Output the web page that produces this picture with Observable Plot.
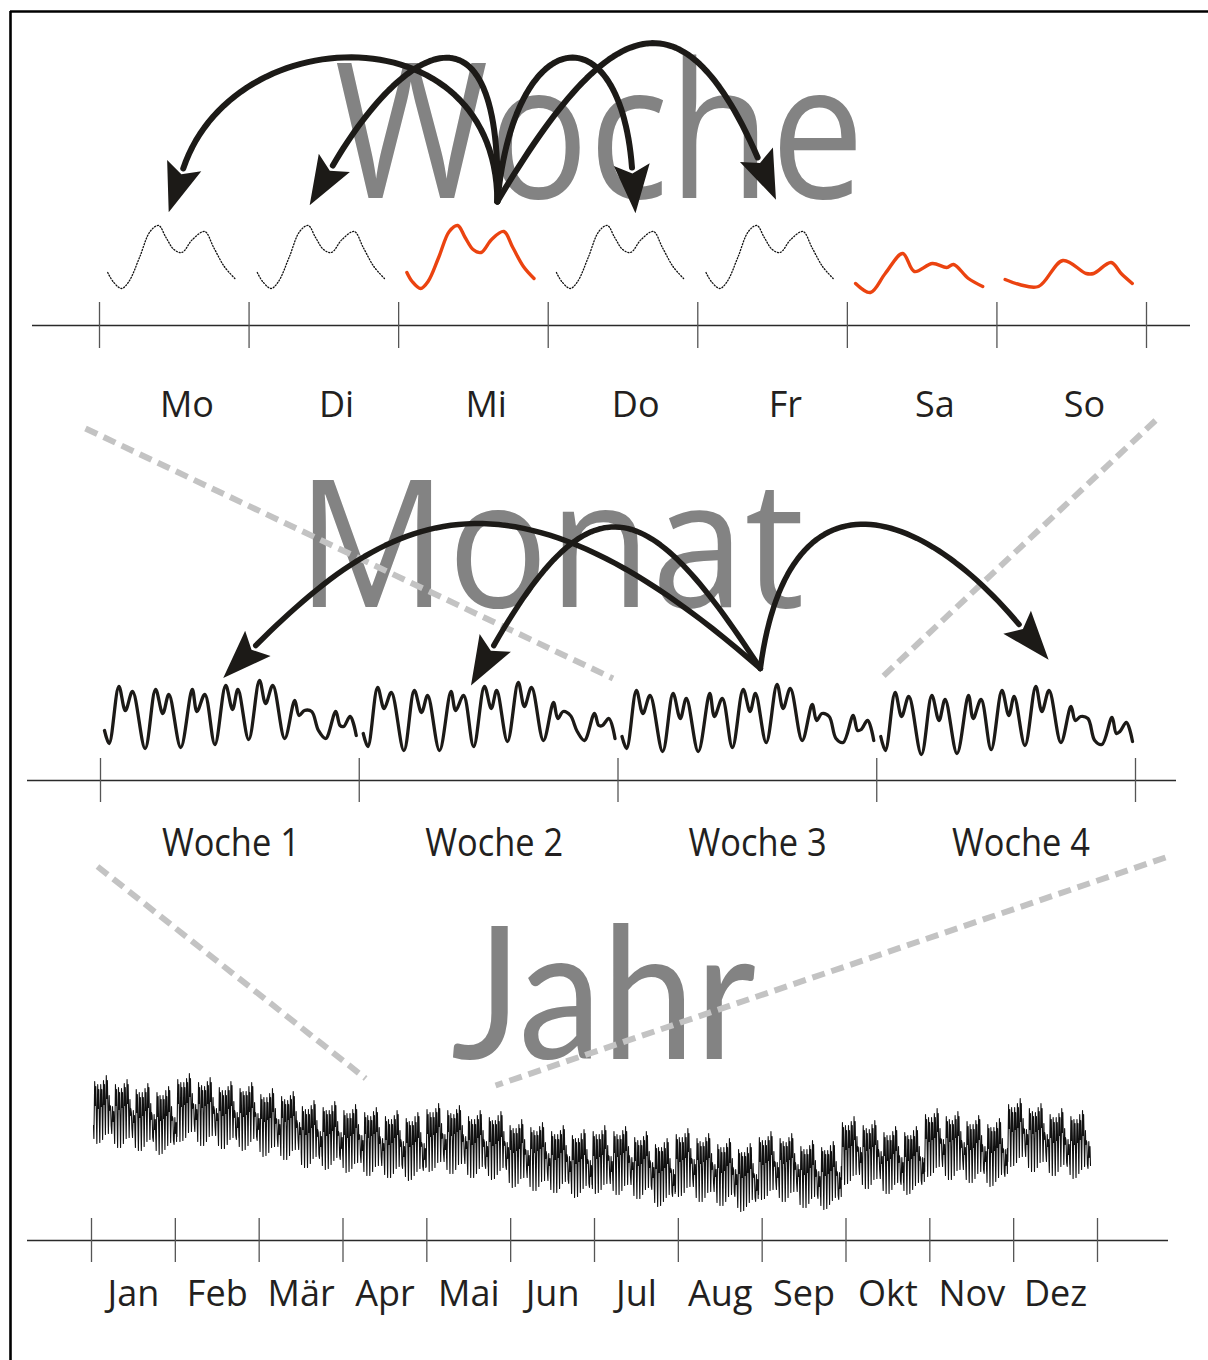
<!DOCTYPE html>
<html><head><meta charset="utf-8">
<script src="https://cdn.jsdelivr.net/npm/d3@7"></script>
<script src="https://cdn.jsdelivr.net/npm/@observablehq/plot@0.6"></script>
<style>html,body{margin:0;padding:0;background:#fff;} #chart svg{display:block}</style>
</head><body><div id="chart"></div>
<script>
// ---------------- DATA ----------------
const days = ["Mo", "Di", "Mi", "Do", "Fr", "Sa", "So"];
const highlightedDays = ["Mi", "Sa", "So"];
// daily load profiles (hour of day, load)
const weekdayHours = [0, 1, 2.6, 4, 6, 8, 9.6, 11, 12.5, 14, 16, 18.3, 20, 22, 24];
const weekdayLoad  = [21, 12, 5, 12, 36, 62, 68, 56, 44, 41, 54, 62, 46, 27, 15];
const saturdayHours = [0, 2.8, 5.6, 8.9, 11.1, 14.5, 17.2, 18.5, 21.3, 24];
const saturdayLoad  = [10, 1, 20, 40, 22, 30, 26, 29, 15, 7];
const sundayHours = [0, 2.7, 6.3, 10.9, 15.3, 16.7, 20, 21.9, 24];
const sundayLoad  = [14, 9, 7, 33, 20, 20, 31, 20, 10];

// monthly view: time within a week (days) and load for each of the four weeks
const weekLabels = ["Woche 1", "Woche 2", "Woche 3", "Woche 4"];
const weekTime = [0, 0.13, 0.40, 0.58, 0.78, 1.13, 1.42, 1.62, 1.79, 2.12, 2.44, 2.57, 2.79, 3.07, 3.37, 3.56, 3.71,
                  4.01, 4.31, 4.48, 4.68, 5.01, 5.29, 5.41, 5.56, 5.76, 5.95, 6.15, 6.43, 6.55, 6.65, 6.83, 7.0];
const week1Load = [23, 10, 67, 43, 62, 5, 64, 40, 59, 6, 64, 42, 59, 9, 68, 44, 64, 14, 73, 50, 68, 15, 53, 38, 43, 42, 23, 15, 42, 28, 27, 37, 18];
const week2Load = [20, 7, 66, 45, 61, 3, 63, 41, 58, 3, 62, 43, 58, 7, 67, 45, 63, 12, 71, 47, 66, 13, 51, 35, 42, 38, 22, 13, 40, 28, 28, 35, 15];
const week3Load = [17, 5, 63, 40, 58, 2, 60, 35, 55, 2, 60, 37, 55, 6, 64, 42, 60, 11, 69, 45, 65, 13, 49, 33, 40, 37, 15, 11, 38, 23, 24, 33, 13];
const week4Load = [17, 3, 61, 37, 57, -1, 58, 33, 54, 0, 58, 35, 54, 4, 63, 38, 57, 8, 67, 42, 63, 11, 47, 33, 37, 35, 13, 9, 36, 20, 22, 31, 12];

// yearly view: weekly peak level of each drawn week
const yearWeekPeak = [75, 71, 67, 64, 77, 73, 69, 68, 62, 59, 50, 49, 46, 43, 40, 38, 47, 45, 40, 39, 31, 28, 25, 21,
                      25, 24, 19, 12, 22, 17, 12, 7, 19, 17, 10, 9, 34, 30, 24, 24, 42, 39, 35, 32, 52, 47, 42, 40];
const months = ["Jan", "Feb", "Mär", "Apr", "Mai", "Jun", "Jul", "Aug", "Sep", "Okt", "Nov", "Dez"];

// titles and similarity arrows
const titles = ["Woche", "Monat", "Jahr"];
const weekArrows = [{from: "Mi", to: "Mo"}, {from: "Mi", to: "Di"}, {from: "Mi", to: "Do"}, {from: "Mi", to: "Fr"}];
const monthArrows = [{from: "Woche 3", to: "Woche 1"}, {from: "Woche 3", to: "Woche 2"}, {from: "Woche 3", to: "Woche 4"}];

// ---------------- LAYOUT ----------------
const W = 1208, H = 1360;
const wk = {x0: 99, x1: 1146, axisY: 325, t0: 302, t1: 348, aL: 32, aR: 1190, base: 293, labelY: 416};
const mo = {x0: 100, x1: 1135, axisY: 780, t0: 758, t1: 802, aL: 27, aR: 1176, base: 753, labelY: 855};
const yr = {x0: 91, x1: 1097, axisY: 1240, t0: 1218, t1: 1262, aL: 27, aR: 1168, base: 1150, labelY: 1305, c0: 93, c1: 1090};
const dayW = (wk.x1 - wk.x0) / 7;
const weekW = (mo.x1 - mo.x0) / 4;
const monW = (yr.x1 - yr.x0) / 12;
const dayX = (d, f) => wk.x0 + days.indexOf(d) * dayW + f * dayW;
const weekX = (w, f) => mo.x0 + weekLabels.indexOf(w) * weekW + f * weekW;

// week panel curves
const profileOf = d => d === "Sa" ? [saturdayHours, saturdayLoad] : d === "So" ? [sundayHours, sundayLoad] : [weekdayHours, weekdayLoad];
const weekRows = days.flatMap(d => {
  const [hs, vs] = profileOf(d);
  return hs.map((h, j) => ({day: d, x: dayX(d, 0.055 + 0.85 * h / 24), y: wk.base - vs[j]}));
});
// month panel curves
const monthWeeks = [week1Load, week2Load, week3Load, week4Load];
const monthRows = monthWeeks.flatMap((vals, k) => vals.map((v, i) => ({
  week: k, x: mo.x0 + k * weekW + 4 + weekTime[i] / 7 * (weekW - 7), y: mo.base - v
})));
// year panel curve: each drawn week uses the measured weekly shape at its weekly level
const yWeekPx = (yr.c1 - yr.c0) / yearWeekPeak.length;
const yearRows = yearWeekPeak.flatMap((peak, w) => {
  const prof = monthWeeks[w % 4];
  const mx = d3.max(prof);
  return prof.map((v, i) => ({x: yr.c0 + (w + weekTime[i] / 7) * yWeekPx, y: yr.base - (peak - (mx - v))}));
});

// arrows (cubic Bezier from the source curve to the target)
const weekArrowGeom = {
  Mo: {land: 0.56, endY: 168, c1: [-1, -190], c2: [50, -150]},
  Di: {land: 0.56, endY: 165, c1: [5, -215], c2: [70, -120]},
  Do: {land: 0.56, endY: 167, c1: [17, -180], c2: [-12, -157]},
  Fr: {land: 0.40, endY: 157, c1: [108, -182], c2: [-77, -177]}
};
const monthArrowGeom = {
  "Woche 1": {land: 0.60, endY: 645, c1: [-248, -218], c2: [137, -137]},
  "Woche 2": {land: 0.52, endY: 645, c1: [-110, -170], c2: [100, -175]},
  "Woche 4": {land: 0.55, endY: 624, c1: [27, -202], c2: [-104, -124]}
};
function bezier(p0, p1, p2, p3, n = 60) {
  return d3.range(n + 1).map(i => {
    const t = i / n, u = 1 - t;
    return [u*u*u*p0[0] + 3*u*u*t*p1[0] + 3*u*t*t*p2[0] + t*t*t*p3[0],
            u*u*u*p0[1] + 3*u*u*t*p1[1] + 3*u*t*t*p2[1] + t*t*t*p3[1]];
  });
}
function buildArrows(list, geom, srcX, srcY, tgtX, prefix) {
  const lines = [], heads = [];
  list.forEach((a, k) => {
    const g = geom[a.to];
    const S = [srcX(a.from), srcY];
    const E = [tgtX(a.to, g.land), g.endY];
    const P1 = [S[0] + g.c1[0], S[1] + g.c1[1]];
    const P2 = [E[0] + g.c2[0], E[1] + g.c2[1]];
    bezier(S, P1, P2, E).forEach(([x, y]) => lines.push({id: prefix + k, x, y}));
    heads.push({x: E[0], y: E[1], angle: Math.atan2(E[0] - P2[0], -(E[1] - P2[1])) * 180 / Math.PI});
  });
  return {lines, heads};
}
const wA = buildArrows(weekArrows, weekArrowGeom, d => dayX(d, 0.66), 201, dayX, "w");
const mA = buildArrows(monthArrows, monthArrowGeom, w => weekX(w, 0.55), 668, weekX, "m");

const arrowHead = {
  draw(ctx, size) {
    const r = Math.sqrt(size / Math.PI);
    ctx.moveTo(0, -2.3 * r);
    ctx.lineTo(0.9 * r, 0.15 * r);
    ctx.lineTo(0, -0.3 * r);
    ctx.lineTo(-0.9 * r, 0.15 * r);
    ctx.closePath();
  }
};

// zoom connector lines
const zoomLinks = [
  {x1: wk.x0 - 14, y1: 428, x2: weekX("Woche 3", 0) - 5, y2: 678},
  {x1: wk.x1 + 9, y1: 420, x2: weekX("Woche 4", 0) + 4, y2: 678},
  {x1: mo.x0 - 3, y1: 866, x2: yr.x0 + 3.27 * monW, y2: 1078},
  {x1: mo.x1 + 30, y1: 857, x2: yr.x0 + 4.82 * monW, y2: 1085}
];

const font = "'Open Sans', 'DejaVu Sans', sans-serif";
const titleFont = "Lato, 'Open Sans', sans-serif";
const titleRows = [
  {text: titles[0], x: 599, y: 197, size: 189, family: font},
  {text: titles[1], x: 550, y: 606, size: 177, family: font},
  {text: titles[2], x: 603, y: 1058, size: 184, family: titleFont}
];

const axisRows = [wk, mo, yr].map(p => ({y: p.axisY, x1: p.aL, x2: p.aR}));
const tickRows = [
  ...d3.range(8).map(i => ({x: wk.x0 + i * dayW, y1: wk.t0, y2: wk.t1})),
  ...d3.range(5).map(i => ({x: mo.x0 + i * weekW, y1: mo.t0, y2: mo.t1})),
  ...d3.range(13).map(i => ({x: yr.x0 + i * monW, y1: yr.t0, y2: yr.t1}))
];
const labelRows = [
  ...days.map(d => ({text: d, x: dayX(d, 0.585), y: wk.labelY, size: 36})),
  ...weekLabels.map((w, i) => ({text: w, x: weekX(w, 0.5) + 1 + 4.6 * i, y: mo.labelY, size: 38})),
  ...months.map((m, i) => ({text: m, x: yr.x0 + (i + 0.5) * monW, y: yr.labelY, size: 36}))
];

const red = "#eb4310";
const ink = "#1c1a17";

const chart = Plot.plot({
  width: W, height: H, margin: 0,
  x: {type: "linear", domain: [0, W], range: [0, W], axis: null},
  y: {type: "linear", domain: [0, H], range: [0, H], axis: null},
  style: {fontFamily: font, background: "#fff"},
  marks: [
    // frame
    Plot.ruleX([10], {x: d => d, y1: 11, y2: H, stroke: "#000", strokeWidth: 2.6}),
    Plot.ruleY([11], {y: d => d, x1: 10, x2: W, stroke: "#000", strokeWidth: 2.6}),
    // big titles
    ...titleRows.map(t => Plot.text([t], {x: "x", y: "y", text: "text", fontSize: t.size, fill: "#838383", lineAnchor: "bottom", textAnchor: "middle", fontFamily: t.family})),
    // zoom connectors
    Plot.link(zoomLinks, {x1: "x1", y1: "y1", x2: "x2", y2: "y2", stroke: "#c3c3c3", strokeWidth: 6, strokeDasharray: "13,7"}),
    // week curves
    Plot.line(weekRows.filter(d => !highlightedDays.includes(d.day)), {x: "x", y: "y", z: "day", curve: "catmull-rom", stroke: "#111", strokeWidth: 1.3, strokeDasharray: "1.1,1.9"}),
    Plot.line(weekRows.filter(d => highlightedDays.includes(d.day)), {x: "x", y: "y", z: "day", curve: "catmull-rom", stroke: red, strokeWidth: 3.4}),
    // month curve
    Plot.line(monthRows, {x: "x", y: "y", z: "week", curve: "catmull-rom", stroke: ink, strokeWidth: 3.3}),
    // year curve
    Plot.line(yearRows, {x: "x", y: "y", curve: "linear", stroke: "#111", strokeWidth: 1.1}),
    // axes
    Plot.ruleY(axisRows, {y: "y", x1: "x1", x2: "x2", stroke: "#2a2a2a", strokeWidth: 1.3}),
    Plot.ruleX(tickRows, {x: "x", y1: "y1", y2: "y2", stroke: "#555", strokeWidth: 1.3}),
    Plot.text(labelRows, {x: "x", y: "y", text: "text", fontSize: "size", fill: "#231f20", lineAnchor: "bottom", textAnchor: "middle", fontFamily: font}),
    // arrows
    Plot.line(wA.lines, {x: "x", y: "y", z: "id", stroke: ink, strokeWidth: 6, curve: "linear"}),
    Plot.line(mA.lines, {x: "x", y: "y", z: "id", stroke: ink, strokeWidth: 5.5, curve: "linear"}),
    Plot.dot([...wA.heads, ...mA.heads], {x: "x", y: "y", rotate: "angle", r: 20, symbol: arrowHead, fill: ink, stroke: "none"})
  ]
});

// condensed letter widths as in the original artwork
const fitWidths = new Map([["Woche", 530], ["Monat", 508], ["Jahr", 305],
  ["Woche 1", 138], ["Woche 2", 138], ["Woche 3", 138], ["Woche 4", 138]]);
chart.querySelectorAll("text").forEach(t => {
  const L = fitWidths.get(t.textContent);
  if (L) { t.setAttribute("textLength", L); t.setAttribute("lengthAdjust", "spacingAndGlyphs"); }
});
document.getElementById("chart").appendChild(chart);
</script>
</body></html>
